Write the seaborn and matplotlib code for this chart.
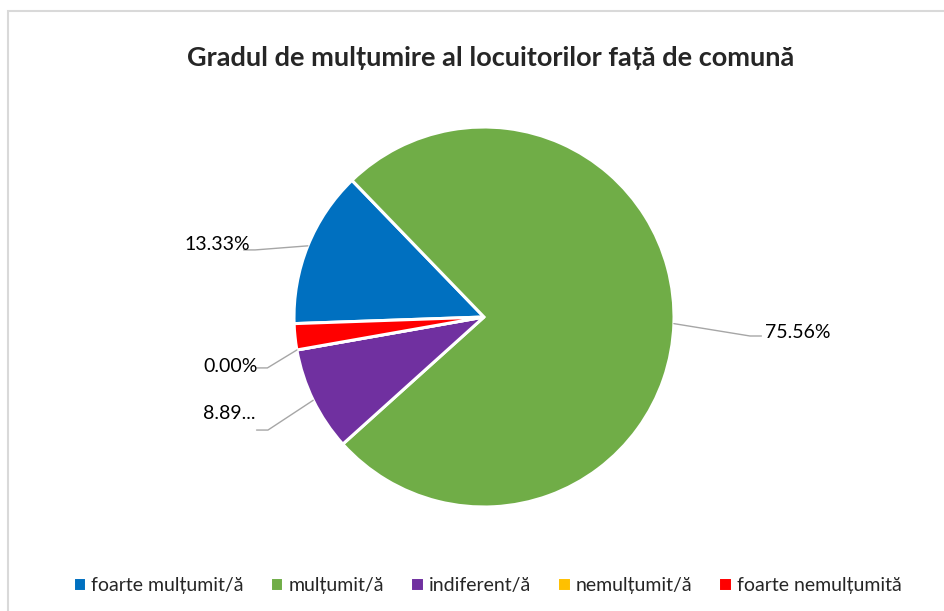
import numpy as np
import matplotlib
matplotlib.use("Agg")
import matplotlib.pyplot as plt
import seaborn as sns
from matplotlib.patches import Rectangle

# Data
categories = ['foarte mulțumit/ă', 'mulțumit/ă', 'indiferent/ă', 'nemulțumit/ă', 'foarte nemulțumită']
values = [13.33, 75.56, 8.89, 0.00, 2.22]
labels_shown = ['13.33%', '75.56%', '8.89...', '0.00%', None]
colors = ['#0070C0', '#70AD47', '#7030A0', '#FFC000', '#FF0000']

sns.set_style('white')
plt.rcParams['font.family'] = ['Lato', 'DejaVu Sans']

fig = plt.figure(figsize=(9.45, 6.11), dpi=100)

# chart border
fig.patches.append(Rectangle((8 / 945, -0.05), 1.0, (611 - 11) / 611 + 0.05,
                             transform=fig.transFigure, fill=False,
                             edgecolor='#D9D9D9', linewidth=1.5))

R = 190
ax = fig.add_axes([(484 - R) / 945, (294 - R) / 611, 2 * R / 945, 2 * R / 611])
wedges, _ = ax.pie(values, colors=colors, startangle=182, counterclock=False,
                   wedgeprops=dict(edgecolor='white', linewidth=2.2))
ax.set_xlim(-1, 1)
ax.set_ylim(-1, 1)
ax.set_aspect('equal')
ax.axis('off')

# label layout (elbow point, text anchor, alignment)
label_layout = [
    ((-1.205, 0.353), (-1.23, 0.384), 'right'),
    ((1.40, -0.10), (1.479, -0.084), 'left'),
    ((-1.137, -0.595), (-1.205, -0.51), 'right'),
    ((-1.14, -0.268), (-1.19, -0.258), 'right'),
    None,
]

for w, lab, lay in zip(wedges, labels_shown, label_layout):
    if lab is None:
        continue
    mid = np.deg2rad((w.theta1 + w.theta2) / 2)
    ex, ey = np.cos(mid), np.sin(mid)
    (bx, by), (tx, ty), ha = lay
    hx = bx + (0.06 if ha == 'left' else -0.06)
    ax.plot([ex, bx, hx], [ey, by, by], color='#A6A6A6', lw=1, clip_on=False)
    ax.text(tx, ty, lab, ha=ha, va='center', fontsize=14, color='#000000')

fig.text(491 / 945, 1 - 58 / 611, 'Gradul de mulțumire al locuitorilor față de comună',
         ha='center', va='center', fontsize=19.5, fontweight='bold')

fig.legend(wedges, categories, loc='center', bbox_to_anchor=(487 / 945, 1 - 585 / 611),
           ncol=5, frameon=False, fontsize=14, handlelength=0.7, handleheight=0.7,
           handletextpad=0.25, columnspacing=1.35)

fig.savefig('out.png', dpi=100)
